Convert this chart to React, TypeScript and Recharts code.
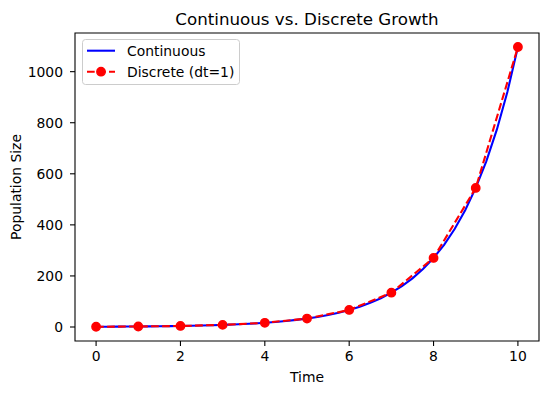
import React from 'react';
import { ComposedChart, Line, XAxis, YAxis, ReferenceArea, Legend } from 'recharts';

const contTimes = [0, 0.25, 0.5, 0.75, 1, 1.25, 1.5, 1.75, 2, 2.25, 2.5, 2.75, 3, 3.25, 3.5, 3.75, 4, 4.25, 4.5, 4.75, 5, 5.25, 5.5, 5.75, 6, 6.25, 6.5, 6.75, 7, 7.25, 7.5, 7.75, 8, 8.25, 8.5, 8.75, 9, 9.25, 9.5, 9.75, 10];
const contValues = [1, 1.19, 1.42, 1.69, 2.01, 2.4, 2.86, 3.4, 4.06, 4.83, 5.75, 6.85, 8.17, 9.73, 11.6, 13.8, 16.4, 19.6, 23.3, 27.8, 33.1, 39.4, 46.9, 55.9, 66.7, 79.4, 94.6, 112.7, 134.3, 160, 190.6, 227, 270.4, 322, 383.8, 457, 544.6, 649, 772.8, 920.6, 1096.6];

const discTimes = [0, 1, 2, 3, 4, 5, 6, 7, 8, 9, 10];
const discValues = [1, 2.0, 4.1, 8.2, 16.4, 33.1, 66.7, 134.3, 270.4, 544.6, 1096.6];

const xTicks = [0, 2, 4, 6, 8, 10];
const yTicks = [0, 200, 400, 600, 800, 1000];

const titleText = 'Continuous vs. Discrete Growth';
const xLabel = 'Time';
const yLabel = 'Population Size';
const seriesNames = ['Continuous', 'Discrete (dt=1)'];

const contData = contTimes.map((t, i) => ({ t, v: contValues[i] }));
const discData = discTimes.map((t, i) => ({ t, v: discValues[i] }));

const FONT = 'DejaVu Sans';
const X_DOMAIN: [number, number] = [-0.5, 10.5];
const Y_DOMAIN: [number, number] = [-54.83, 1151.43];

const LegendContent = () => (
  <svg width={158} height={46} style={{ display: 'block' }}>
    <rect x={0.5} y={0.5} width={157} height={45} rx={3} ry={3} fill="#ffffff" fillOpacity={0.8} stroke="#cccccc" strokeWidth={1} />
    <line x1={5} y1={11.7} x2={33} y2={11.7} stroke="#0000ff" strokeWidth={2.08} />
    <text x={45} y={11.7} dy="0.36em" fontFamily={FONT} fontSize={13.9} fill="#000">{seriesNames[0]}</text>
    <line x1={5} y1={32.7} x2={33} y2={32.7} stroke="#ff0000" strokeWidth={2.08} strokeDasharray="7.7 3.3" />
    <circle cx={19} cy={32.7} r={4.2} fill="#ff0000" stroke="#ff0000" strokeWidth={1.4} />
    <text x={45} y={32.7} dy="0.36em" fontFamily={FONT} fontSize={13.9} fill="#000">{seriesNames[1]}</text>
  </svg>
);

export default function App() {
  const tickStyle = { fontFamily: FONT, fontSize: 13.9, fill: '#000' };
  return (
    <div style={{ position: 'absolute', left: 0, top: 0, width: 549, height: 393, background: '#fff', fontFamily: FONT }}>
      <ComposedChart width={549} height={393} margin={{ top: 33, right: 10, left: 0, bottom: 0 }}>
        <XAxis
          dataKey="t"
          type="number"
          domain={X_DOMAIN}
          ticks={xTicks}
          allowDataOverflow
          height={52}
          axisLine={false}
          tickLine={{ stroke: '#000', strokeWidth: 1.1 }}
          tickSize={5}
          tickMargin={5}
          tick={tickStyle}
        />
        <YAxis
          dataKey="v"
          type="number"
          domain={Y_DOMAIN}
          ticks={yTicks}
          allowDataOverflow
          width={75}
          axisLine={false}
          tickLine={{ stroke: '#000', strokeWidth: 1.1 }}
          tickSize={5}
          tickMargin={7}
          tick={tickStyle}
        />
        <Line
          data={contData}
          dataKey="v"
          type="linear"
          stroke="#0000ff"
          strokeWidth={2.08}
          dot={false}
          activeDot={false}
          isAnimationActive={false}
          name={seriesNames[0]}
        />
        <Line
          data={discData}
          dataKey="v"
          type="linear"
          stroke="#ff0000"
          strokeWidth={2.08}
          strokeDasharray="7.7 3.3"
          dot={{ r: 4.2, fill: '#ff0000', stroke: '#ff0000', strokeWidth: 1.4, strokeDasharray: '' }}
          activeDot={false}
          isAnimationActive={false}
          name={seriesNames[1]}
        />
        <ReferenceArea
          x1={X_DOMAIN[0]}
          x2={X_DOMAIN[1]}
          y1={Y_DOMAIN[0]}
          y2={Y_DOMAIN[1]}
          fill="none"
          fillOpacity={0}
          stroke="#000"
          strokeWidth={1.1}
          ifOverflow="visible"
        />
        <Legend
          layout="horizontal"
          verticalAlign="middle"
          align="center"
          content={<LegendContent />}
          wrapperStyle={{ left: 82, top: 39, width: 158, height: 46, bottom: 'auto', right: 'auto' }}
        />
      </ComposedChart>
      <svg width={549} height={393} style={{ position: 'absolute', left: 0, top: 0, pointerEvents: 'none' }}>
        <text x={307} y={24.5} textAnchor="middle" fontFamily={FONT} fontSize={16.7} fill="#000">{titleText}</text>
        <text x={307} y={382} textAnchor="middle" fontFamily={FONT} fontSize={13.9} fill="#000">{xLabel}</text>
        <text x={20.5} y={187} textAnchor="middle" fontFamily={FONT} fontSize={13.9} fill="#000" transform="rotate(-90 20.5 187)">{yLabel}</text>
      </svg>
    </div>
  );
}
